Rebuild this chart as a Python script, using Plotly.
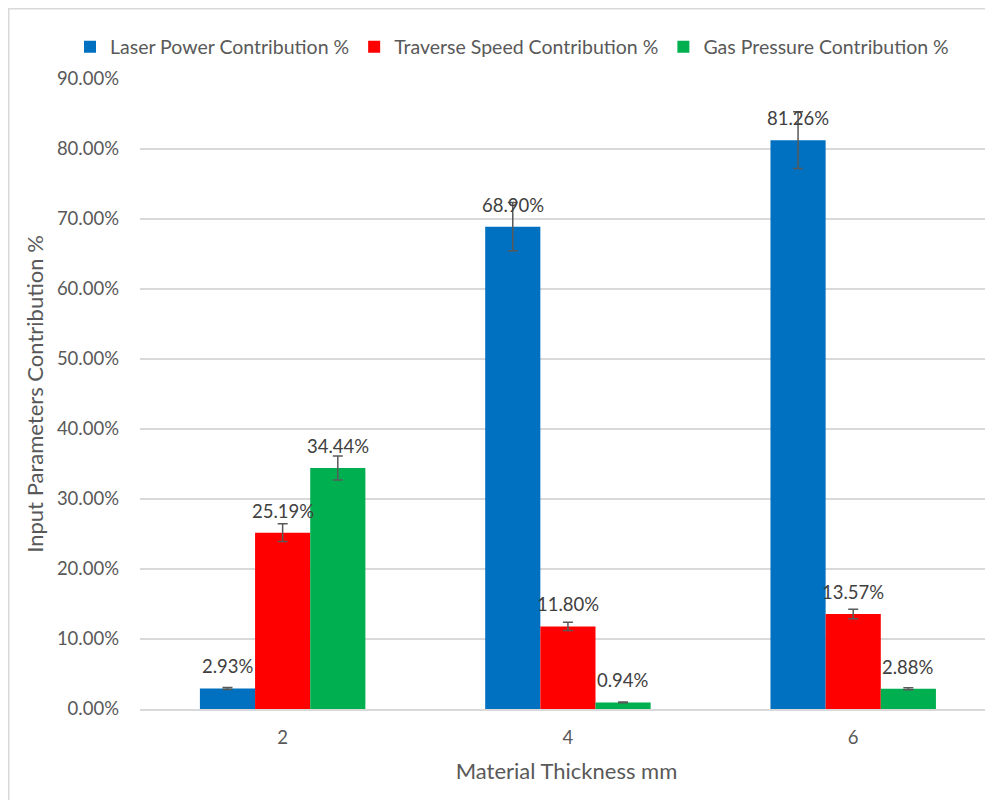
import plotly.graph_objects as go

categories = ["2", "4", "6"]
series_names = ["Laser Power Contribution %", "Traverse Speed Contribution %", "Gas Pressure Contribution %"]
laser_power = [2.93, 68.90, 81.26]
traverse_speed = [25.19, 11.80, 13.57]
gas_pressure = [34.44, 0.94, 2.88]
laser_err = [0.15, 3.45, 4.06]
traverse_err = [1.26, 0.59, 0.68]
gas_err = [1.72, 0.05, 0.14]
colors = ["#0070C0", "#FF0000", "#00B050"]
tick_vals = [0, 10, 20, 30, 40, 50, 60, 70, 80, 90]
tick_text = ["0.00%", "10.00%", "20.00%", "30.00%", "40.00%", "50.00%", "60.00%", "70.00%", "80.00%", "90.00%"]

FONT = "Lato"
values = [laser_power, traverse_speed, gas_pressure]
errors = [laser_err, traverse_err, gas_err]

fig = go.Figure()
for name, vals, errs, col in zip(series_names, values, errors, colors):
    fig.add_trace(go.Bar(
        x=categories, y=vals, name=name,
        marker=dict(color=col, line=dict(width=0)),
        error_y=dict(type="data", array=errs, visible=True, color="#595959", thickness=1.5, width=5),
    ))

# figure is placed by the page at (8, 8)
W, H = 985, 792
L, R, T, B = 132, 0, 71, 91
pw = W - L - R
ph = H - T - B

# data labels as annotations above the bar tops
bar_px = 55
annotations = []
for i, vals in enumerate(values):
    for ci, v in enumerate(vals):
        annotations.append(dict(
            x=ci, y=v, xref="x", yref="y", text=f"{v:.2f}%", showarrow=False,
            xshift=(i - 1) * bar_px, yshift=22,
            font=dict(family=FONT, size=18.5, color="#404040"),
        ))

fig.update_layout(
    width=W, height=H,
    margin=dict(l=L, r=R, t=T, b=B, pad=0, autoexpand=False),
    paper_bgcolor="white", plot_bgcolor="white",
    barmode="group", bargap=0.42, bargroupgap=0,
    font=dict(family=FONT, size=16, color="#595959"),
    showlegend=True,
    legend=dict(orientation="h", xref="paper", yref="paper",
                x=(62 - L) / pw, xanchor="left", y=1 + (T - 39) / ph, yanchor="middle",
                font=dict(family=FONT, size=19.5, color="#595959"), itemwidth=30, traceorder="normal"),
    annotations=annotations,
    shapes=[dict(type="rect", xref="paper", yref="paper",
                 x0=(0.75 - L) / pw, x1=1.05, y0=-0.2, y1=1 + (T - 0.75) / ph,
                 line=dict(color="#d9d9d9", width=1.5), fillcolor="rgba(0,0,0,0)", layer="below")],
)
fig.update_xaxes(
    type="category", automargin=False,
    range=[-0.5, 2.49], showgrid=False, showline=True, linecolor="#d9d9d9", linewidth=1.5,
    ticks="", tickfont=dict(family=FONT, size=18.5, color="#595959"), ticklabelstandoff=11,
    title=dict(text="Material Thickness mm", font=dict(family=FONT, size=22, color="#595959"), standoff=17),
)
fig.update_yaxes(
    automargin=False,
    range=[0, 90], tickvals=tick_vals, ticktext=tick_text, showgrid=True, gridcolor="#d9d9d9", gridwidth=1.5,
    zeroline=False, showline=False, ticks="", tickfont=dict(family=FONT, size=18.5, color="#595959"),
    ticklabelstandoff=20,
    title=dict(text="Input Parameters Contribution %", font=dict(family=FONT, size=22, color="#595959"), standoff=7),
)

fig.write_html("out.html")
